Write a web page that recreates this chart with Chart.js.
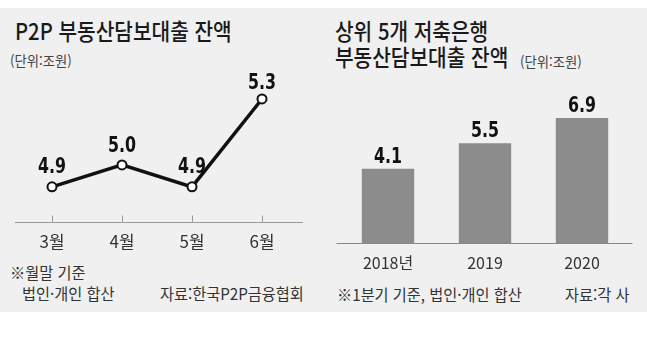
<!DOCTYPE html>
<html lang="ko">
<head>
<meta charset="utf-8">
<script src="https://cdn.jsdelivr.net/npm/chart.js@4"></script>
<style>
  body { margin: 0; width: 647px; height: 339px; background: #fff; position: relative; overflow: hidden;
         font-family: "Noto Sans CJK KR", sans-serif; color: #222; }
  #panel { position: absolute; left: 0; top: 8px; width: 647px; height: 304px; background: #f0f0f0; }
  .t { position: absolute; white-space: nowrap; line-height: 1; transform-origin: 0 0; }
  .title { font-size: 23px; font-weight: 500; color: #1a1a1a; transform: scaleX(0.88); }
  .unit { font-size: 14px; color: #444; transform: scaleX(0.95); }
  .note { font-size: 16px; color: #333; transform: scaleX(0.95); }
  canvas { position: absolute; top: 0; }
</style>
</head>
<body>
<div id="panel"></div>

<div class="t title" style="left:15px; top:19px;">P2P 부동산담보대출 잔액</div>
<div class="t unit" style="left:10px; top:53px;">(단위:조원)</div>
<div class="t note" style="left:10px; top:264px;">※월말 기준</div>
<div class="t note" style="left:22px; top:285px;">법인·개인 합산</div>
<div class="t note" style="left:160px; top:285px;">자료:한국P2P금융협회</div>

<div class="t title" style="left:335px; top:19px;">상위 5개 저축은행</div>
<div class="t title" style="left:335px; top:45px;">부동산담보대출 잔액</div>
<div class="t unit" style="left:520px; top:54px;">(단위:조원)</div>
<div class="t note" style="left:337px; top:286px;">※1분기 기준, 법인·개인 합산</div>
<div class="t note" style="left:565px; top:286px;">자료:각 사</div>

<canvas id="lineChart" width="320" height="339" style="left:0;"></canvas>
<canvas id="barChart" width="327" height="339" style="left:320px;"></canvas>

<script>
// P2P 부동산담보대출 잔액 (조원)
const months = ['3월', '4월', '5월', '6월'];
const p2pBalance = [4.9, 5.0, 4.9, 5.3];

// 상위 5개 저축은행 부동산담보대출 잔액 (조원)
const years = ['2018년', '2019', '2020'];
const savingsBankBalance = [4.1, 5.5, 6.9];

const numFont = 'bold 22px "DejaVu Sans", sans-serif';

// value labels above each point / bar (squeezed a bit, the original uses a condensed face)
const valueLabels = {
  id: 'valueLabels',
  afterDatasetsDraw(chart, args, opts) {
    const ctx = chart.ctx;
    const meta = chart.getDatasetMeta(0);
    const data = chart.data.datasets[0].data;
    meta.data.forEach((el, i) => {
      const off = Array.isArray(opts.offset) ? opts.offset[i] : opts.offset;
      ctx.save();
      ctx.translate(el.x, el.y - off);
      ctx.scale(opts.squeeze, 1);
      ctx.font = opts.font;
      ctx.fillStyle = '#111';
      ctx.textAlign = 'center';
      ctx.textBaseline = 'alphabetic';
      ctx.fillText(data[i].toFixed(1), 0, 0);
      ctx.restore();
    });
  }
};

// base line with small tick marks pointing up
const axisLine = {
  id: 'axisLine',
  beforeDatasetsDraw(chart, args, opts) {
    const { ctx, chartArea, scales: { x } } = chart;
    const y = Math.round(chartArea.bottom) + 0.5;
    ctx.save();
    ctx.strokeStyle = opts.color;
    ctx.lineWidth = 1;
    ctx.beginPath();
    ctx.moveTo(chartArea.left - opts.extendLeft, y);
    ctx.lineTo(chartArea.right + opts.extendRight, y);
    if (opts.tick) {
      x.ticks.forEach((t, i) => {
        const px = Math.round(x.getPixelForTick(i)) + 0.5;
        ctx.moveTo(px, y - opts.tick);
        ctx.lineTo(px, y);
      });
    }
    ctx.stroke();
    ctx.restore();
  }
};

new Chart(document.getElementById('lineChart'), {
  type: 'line',
  data: {
    labels: months,
    datasets: [{
      data: p2pBalance,
      borderColor: '#111',
      borderWidth: 3.5,
      tension: 0,
      pointRadius: 4.5,
      pointBorderWidth: 2,
      pointBackgroundColor: '#fff',
      pointBorderColor: '#111',
      clip: false,
    }],
  },
  options: {
    responsive: false,
    animation: false,
    layout: { padding: { left: 17, right: 23, top: 77, bottom: 77 } },
    scales: {
      x: {
        offset: true,
        grid: { display: false, drawTicks: false },
        border: { display: false },
        ticks: { color: '#333', padding: 9, font: { family: '"Noto Sans CJK KR"', size: 17 } },
        afterFit(scale) { scale.height = 40; },
      },
      y: { display: false, min: 4.74, max: 5.4 },
    },
    plugins: {
      legend: { display: false },
      tooltip: { enabled: false },
      valueLabels: { font: numFont, squeeze: 0.72, offset: [14, 13, 14, 10] },
      axisLine: { color: '#999', extendLeft: 2, extendRight: 6, tick: 7 },
    },
  },
  plugins: [axisLine, valueLabels],
});

new Chart(document.getElementById('barChart'), {
  type: 'bar',
  data: {
    labels: years,
    datasets: [{
      data: savingsBankBalance,
      backgroundColor: '#8c8c8c',
      barPercentage: 0.54,
      categoryPercentage: 1,
    }],
  },
  options: {
    responsive: false,
    animation: false,
    layout: { padding: { left: 19.5, right: 16.5, top: 107, bottom: 56 } },
    scales: {
      x: {
        grid: { display: false, drawTicks: false },
        border: { display: false },
        ticks: { color: '#333', padding: 10, font: { family: '"Noto Sans CJK KR"', size: 16 } },
        afterFit(scale) { scale.height = 40; },
      },
      y: { display: false, min: 0, max: 7.5 },
    },
    plugins: {
      legend: { display: false },
      tooltip: { enabled: false },
      valueLabels: { font: numFont, squeeze: 0.72, offset: 6 },
      axisLine: { color: '#888', extendLeft: 3, extendRight: 2, tick: 0 },
    },
  },
  plugins: [valueLabels, axisLine],
});
</script>
</body>
</html>
